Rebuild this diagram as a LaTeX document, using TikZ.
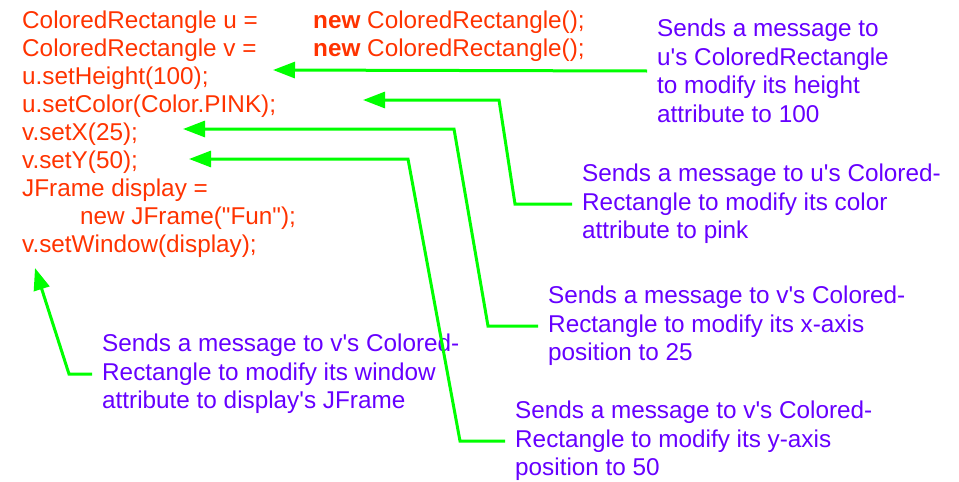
\documentclass[tikz,border=0pt]{standalone}
\usepackage{fontspec}
\setmainfont{Liberation Sans}
\usetikzlibrary{arrows.meta}
\definecolor{codered}{HTML}{FF3300}
\definecolor{notepurple}{HTML}{6600FF}
\definecolor{arrgreen}{HTML}{00FF00}
\tikzset{
  codetext/.style={text=codered, font=\fontsize{24.3}{28}\selectfont, align=left, inner sep=0pt},
  notetext/.style={text=notepurple, font=\fontsize{24.3}{28.5}\selectfont, align=left, inner xsep=10pt, inner ysep=0pt},
  msgarrow/.style={draw=arrgreen, line width=3pt, -{Triangle[length=22pt,width=16pt]}, line join=miter}
}
\begin{document}
\begin{tikzpicture}[x=1pt,y=-1pt]
\useasboundingbox (0,0) rectangle (959,482);
% code
\node[codetext, anchor=base west] (code) at (22,252) {ColoredRectangle u =\\ColoredRectangle v =\\u.setHeight(100);\\u.setColor(Color.PINK);\\v.setX(25);\\v.setY(50);\\JFrame display =\\\hspace*{58pt}new JFrame(\textquotedbl Fun\textquotedbl);\\v.setWindow(display);};
\node[codetext, anchor=base west] (newcol) at (313,56) {{\bfseries new} ColoredRectangle();\\{\bfseries new} ColoredRectangle();};
% notes
\node[notetext, anchor=west] (n1) at (647,71) {Sends a message to\\u\textquotesingle s ColoredRectangle\\to modify its height\\attribute to 100};
\node[notetext, anchor=west] (n2) at (572,204) {Sends a message to u\textquotesingle s Colored-\\Rectangle to modify its color\\attribute to pink};
\node[notetext, anchor=west] (n3) at (538,326) {Sends a message to v\textquotesingle s Colored-\\Rectangle to modify its x-axis\\position to 25};
\node[notetext, anchor=west] (n4) at (505,441) {Sends a message to v\textquotesingle s Colored-\\Rectangle to modify its y-axis\\position to 50};
\node[notetext, anchor=west] (n5) at (92,374) {Sends a message to v\textquotesingle s Colored-\\Rectangle to modify its window\\attribute to display\textquotesingle s JFrame};
% arrow targets
\coordinate (tHeight) at (273,70);
\coordinate (tColor) at (363,100);
\coordinate (tX) at (183,129);
\coordinate (tY) at (189,159);
\coordinate (tWin) at (35,268);
% arrows
\draw[msgarrow] (n1.west) -- (tHeight);
\draw[msgarrow] (n2.west) -- (515,204) -- (499,100) -- (tColor);
\draw[msgarrow] (n3.west) -- (488,326) -- (454,129) -- (tX);
\draw[msgarrow] (n4.west) -- (460,441) -- (408,159) -- (tY);
\draw[msgarrow] (n5.west) -- (69,374) -- (tWin);
\end{tikzpicture}
\end{document}
